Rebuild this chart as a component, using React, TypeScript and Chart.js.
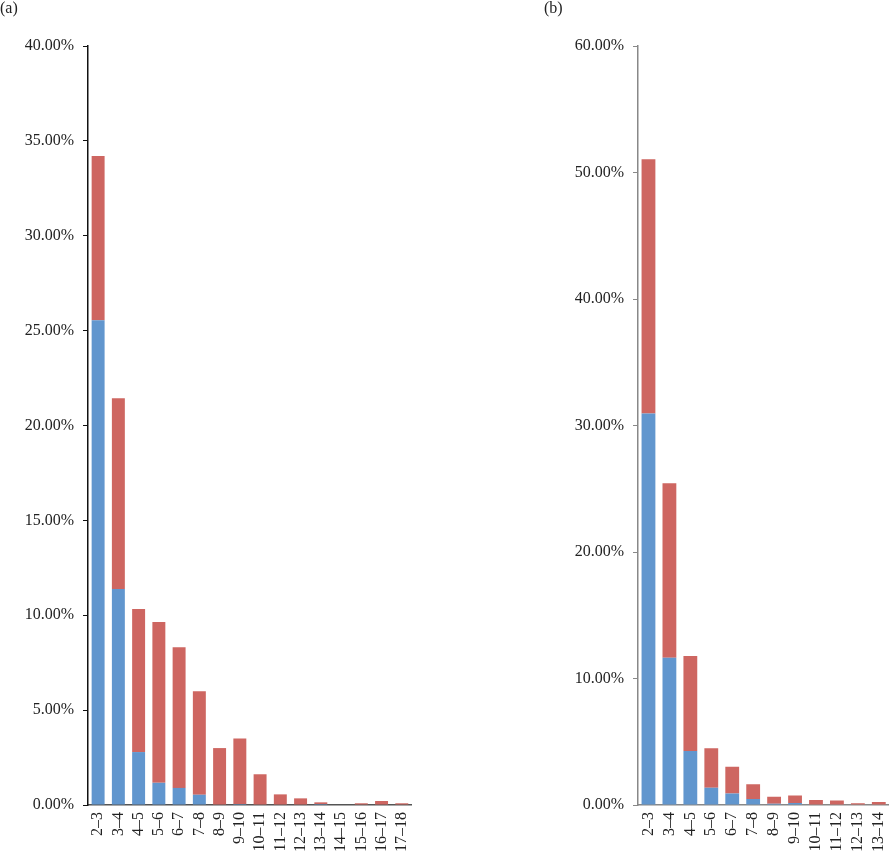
import React, { useEffect, useRef } from "react";
import { Chart, registerables } from "chart.js";

Chart.register(...registerables);

const categoriesA = ["2–3", "3–4", "4–5", "5–6", "6–7", "7–8", "8–9", "9–10", "10–11", "11–12", "12–13", "13–14", "14–15", "15–16", "16–17", "17–18"];
const blueA = [25.55, 11.38, 2.79, 1.17, 0.9, 0.54, 0, 0.05, 0, 0, 0, 0.05, 0, 0, 0, 0];
const redA = [8.65, 10.06, 7.54, 8.47, 7.42, 5.46, 3.0, 3.45, 1.62, 0.56, 0.35, 0.09, 0, 0.09, 0.21, 0.09];

const categoriesB = ["2–3", "3–4", "4–5", "5–6", "6–7", "7–8", "8–9", "9–10", "10–11", "11–12", "12–13", "13–14"];
const blueB = [30.95, 11.64, 4.26, 1.37, 0.9, 0.47, 0.1, 0.15, 0, 0, 0, 0];
const redB = [20.09, 13.79, 7.51, 3.12, 2.13, 1.18, 0.56, 0.61, 0.39, 0.35, 0.13, 0.24];

const yMaxA = 40;
const yStepA = 5;
const yMaxB = 60;
const yStepB = 10;

const BLUE = "rgb(97,150,206)";
const RED = "rgb(206,102,97)";
const FONT = "'Liberation Serif', 'Times New Roman', serif";

type PanelProps = {
  categories: string[];
  blue: number[];
  red: number[];
  yMax: number;
  yStep: number;
  width: number;
  yAxisWidth: number;
  padRight: number;
  yAxisColor: string;
  xAxisColor: string;
  ratio: number;
};

function Panel(p: PanelProps) {
  const ref = useRef<HTMLCanvasElement | null>(null);
  useEffect(() => {
    if (!ref.current) return;
    const chart = new Chart(ref.current, {
      type: "bar",
      data: {
        labels: p.categories,
        datasets: [
          { data: p.blue, backgroundColor: BLUE, borderWidth: 0, barPercentage: p.ratio, categoryPercentage: 1 },
          { data: p.red, backgroundColor: RED, borderWidth: 0, barPercentage: p.ratio, categoryPercentage: 1 },
        ],
      },
      options: {
        animation: false,
        responsive: false,
        maintainAspectRatio: false,
        devicePixelRatio: 1,
        layout: { padding: { top: 46, right: p.padRight, left: 0, bottom: 0 } },
        plugins: { legend: { display: false }, tooltip: { enabled: false }, title: { display: false } },
        scales: {
          x: {
            stacked: true,
            grid: { display: false, drawTicks: false },
            border: { display: true, color: p.xAxisColor, width: 1.5 },
            ticks: {
              minRotation: 90,
              maxRotation: 90,
              autoSkip: false,
              padding: 7,
              color: "#222",
              font: { family: FONT, size: 16 },
            },
            afterFit: (s: any) => {
              s.height = 49;
            },
          },
          y: {
            stacked: true,
            min: 0,
            max: p.yMax,
            grid: { drawOnChartArea: false, drawTicks: true, tickLength: 5, color: p.yAxisColor },
            border: { display: true, color: p.yAxisColor, width: 1.5 },
            ticks: {
              stepSize: p.yStep,
              padding: 9,
              color: "#222",
              font: { family: FONT, size: 16 },
              callback: (v: any) => Number(v).toFixed(2) + "%",
            },
            afterFit: (s: any) => {
              s.width = p.yAxisWidth;
            },
          },
        },
      },
    });
    return () => chart.destroy();
  }, []);
  return <canvas ref={ref} width={p.width} height={854} style={{ width: p.width, height: 854, display: "block" }} />;
}

export default function App() {
  const labelStyle: React.CSSProperties = {
    position: "absolute",
    top: 0,
    fontFamily: FONT,
    fontSize: 16,
    lineHeight: "16px",
    color: "#222",
  };
  return (
    <div style={{ position: "absolute", top: 0, left: 0, width: 889, height: 854, background: "#fff", overflow: "hidden" }}>
      <div style={{ position: "absolute", left: 0, top: 0 }}>
        <Panel
          categories={categoriesA}
          blue={blueA}
          red={redA}
          yMax={yMaxA}
          yStep={yStepA}
          width={428}
          yAxisWidth={88}
          padRight={0}
          yAxisColor="#111"
          xAxisColor="#555"
          ratio={0.64}
        />
      </div>
      <div style={{ position: "absolute", left: 540, top: 0 }}>
        <Panel
          categories={categoriesB}
          blue={blueB}
          red={redB}
          yMax={yMaxB}
          yStep={yStepB}
          width={365}
          yAxisWidth={98}
          padRight={0}
          yAxisColor="#888"
          xAxisColor="#888"
          ratio={0.66}
        />
      </div>
      <div style={{ ...labelStyle, left: 0 }}>(a)</div>
      <div style={{ ...labelStyle, left: 544 }}>(b)</div>
    </div>
  );
}
